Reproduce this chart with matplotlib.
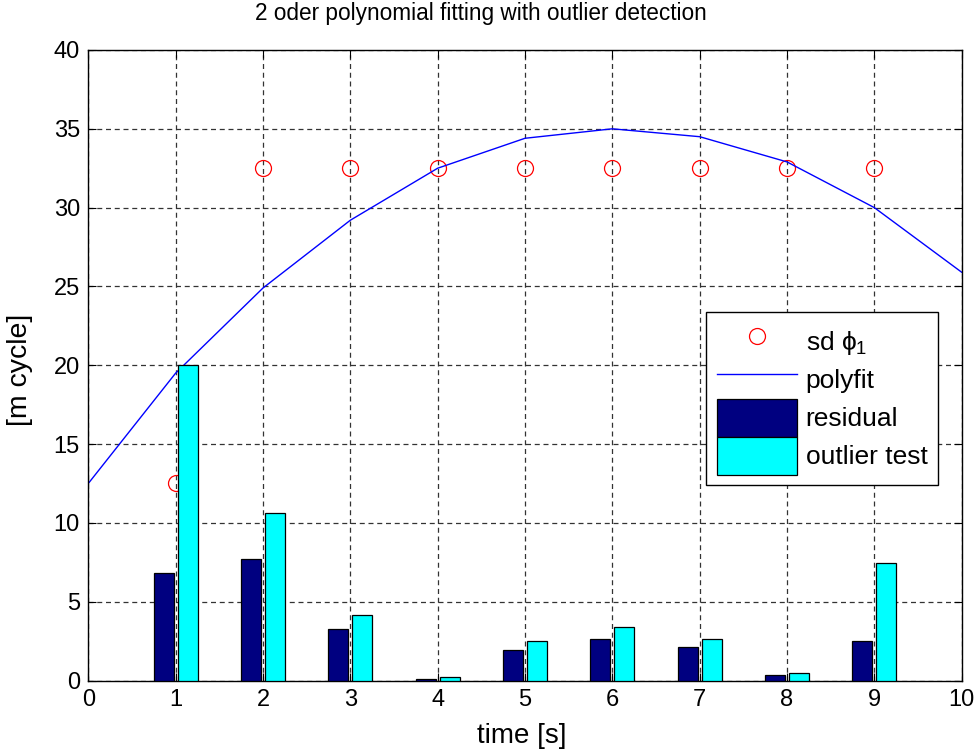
import matplotlib
matplotlib.use("Agg")
import matplotlib.pyplot as plt
import numpy as np
from matplotlib.patches import Patch
from matplotlib.lines import Line2D

# ---- data ----
t_fit = [0, 1, 2, 3, 4, 5, 6, 7, 8, 9, 10]
polyfit_vals = [12.5, 19.5, 24.9, 29.2, 32.5, 34.4, 35.0, 34.5, 32.9, 30.0, 25.9]
t_obs = [1, 2, 3, 4, 5, 6, 7, 8, 9]
sd_phi1 = [12.5, 32.5, 32.5, 32.5, 32.5, 32.5, 32.5, 32.5, 32.5]
residual = [6.85, 7.73, 3.29, 0.12, 1.92, 2.63, 2.15, 0.37, 2.53]
outlier_test = [20.0, 10.65, 4.18, 0.25, 2.53, 3.42, 2.63, 0.5, 7.48]
xticks = [0, 1, 2, 3, 4, 5, 6, 7, 8, 9, 10]
yticks = [0, 5, 10, 15, 20, 25, 30, 35, 40]

plt.rcParams['font.family'] = ['Liberation Sans', 'DejaVu Sans']
plt.rcParams['mathtext.fontset'] = 'custom'
plt.rcParams['mathtext.rm'] = 'Liberation Sans'
plt.rcParams['mathtext.it'] = 'Liberation Sans'

W, H = 980, 753
fig = plt.figure(figsize=(W/100, H/100), dpi=100)
L, R, T, B = 88.3, 961.7, 50.0, 680.5
ax = fig.add_axes([L/W, 1-B/H, (R-L)/W, (B-T)/H])

x = np.array(t_obs, dtype=float)
bw = 0.229
off = 0.138

ax.plot(t_obs, sd_phi1, linestyle='none', marker='o', markersize=11.5,
        markerfacecolor='none', markeredgecolor='red', markeredgewidth=0.9,
        zorder=2, clip_on=False)
ax.plot(t_fit, polyfit_vals, color='blue', linewidth=1.0, zorder=2.5)
ax.bar(x - off, residual, width=bw, color='#000080', edgecolor='black',
       linewidth=0.9, zorder=3)
ax.bar(x + off, outlier_test, width=bw, color='#00ffff', edgecolor='black',
       linewidth=0.9, zorder=3)

ax.set_xlim(0, 10)
ax.set_ylim(0, 40)
ax.set_xticks(xticks)
ax.set_yticks(yticks)
ax.tick_params(direction='in', top=True, right=True, length=6, width=0.8,
               labelsize=17, pad=6, colors='black')
ax.grid(True, color='#333333', linestyle=(0, (4, 3)), linewidth=0.9)
ax.set_axisbelow(True)
for s in ax.spines.values():
    s.set_linewidth(1.0)
    s.set_color('black')

fig.text(481/W, 1-20/H, '2 oder polynomial fitting with outlier detection',
         fontsize=16.3, ha='center', va='baseline')
ax.set_xlabel('time [s]', fontsize=20)
ax.xaxis.set_label_coords((522-L)/(R-L), -0.0675)
ax.set_ylabel('[m cycle]', fontsize=20.5)
ax.yaxis.set_label_coords((33-L)/(R-L), (B-370)/(B-T))

handles = [
    Line2D([], [], linestyle='none', marker='o', markersize=11.5,
           markerfacecolor='none', markeredgecolor='red', markeredgewidth=0.9),
    Line2D([], [], color='blue', linewidth=1.0),
    Patch(facecolor='#000080', edgecolor='black', linewidth=0.9),
    Patch(facecolor='#00ffff', edgecolor='black', linewidth=0.9),
]
labels = [r'sd $\phi_1$', 'polyfit', 'residual', 'outlier test']
leg = ax.legend(handles, labels, loc='upper right',
                bbox_to_anchor=((938-L)/(R-L), (B-312)/(B-T)), fontsize=19,
                frameon=True, fancybox=False, edgecolor='black',
                framealpha=1, labelspacing=0.0, handleheight=1.84,
                handlelength=3.03, handletextpad=0.34, borderpad=0.4,
                borderaxespad=0)
leg.get_frame().set_linewidth(1.0)
leg.set_zorder(10)

fig.savefig('out.png', dpi=100, facecolor='white')
